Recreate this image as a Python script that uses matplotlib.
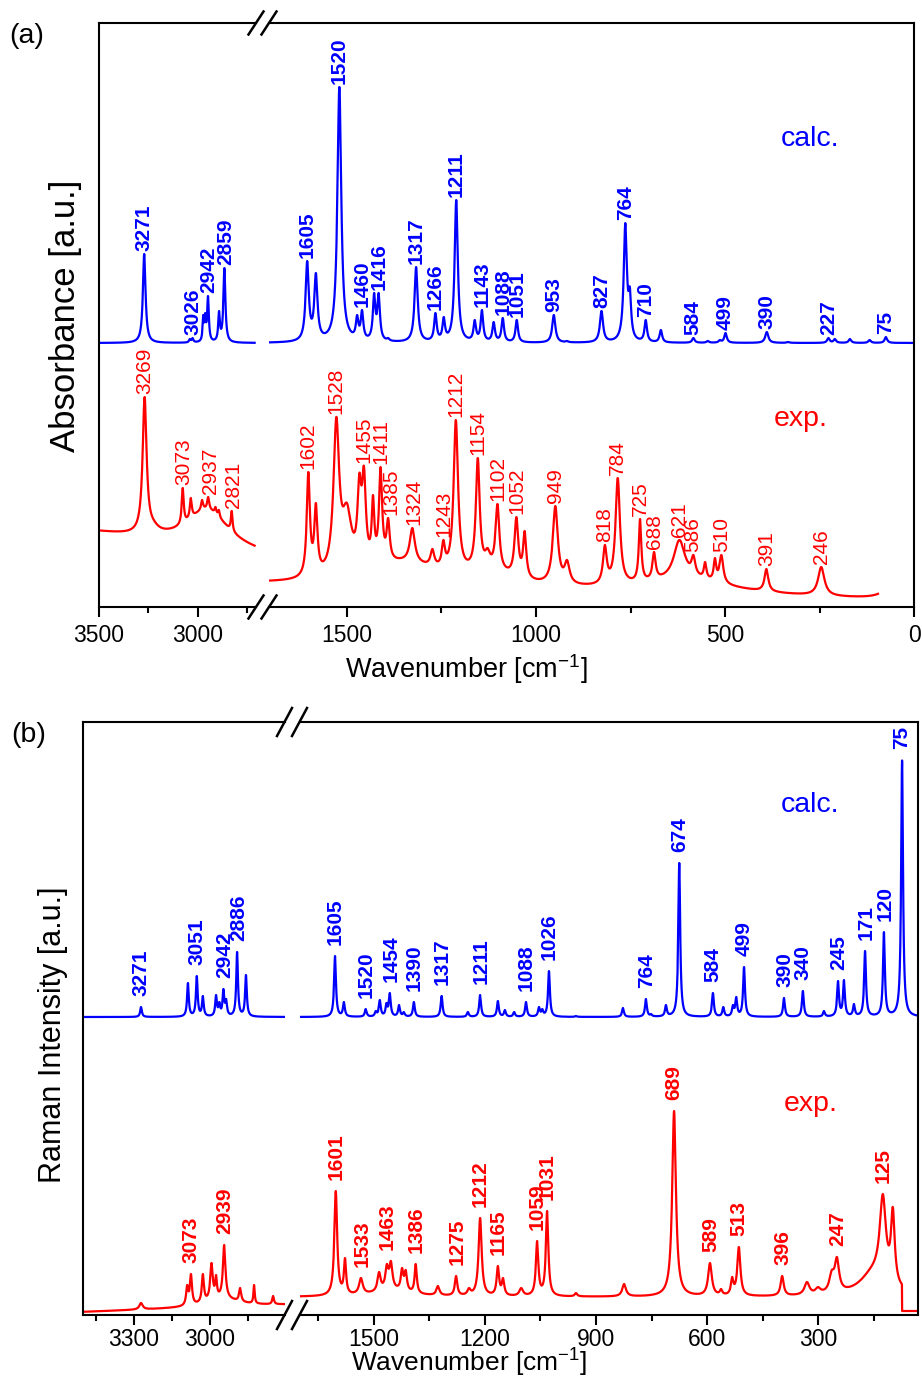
import numpy as np
import matplotlib.pyplot as plt

plt.rcParams['font.family'] = ['Liberation Sans', 'DejaVu Sans']
plt.rcParams['mathtext.default'] = 'regular'

W, H = 922, 1384
BLUE, RED = '#0000ff', '#ff0000'

# ---------------- (a) IR absorbance ----------------
# calc.: peak positions [cm-1], heights above baseline, half widths
ir_calc_base = 264
ir_calc_pos = [3271, 3040, 3026, 2972, 2962, 2948, 2892, 2865,
               1605, 1582, 1520, 1473, 1460, 1428, 1416, 1391, 1317, 1266, 1244,
               1211, 1162, 1143, 1112, 1088, 1051, 953, 918, 827, 764, 752, 710,
               670, 584, 546, 514, 499, 390, 333, 227, 210, 170, 118, 75]
ir_calc_h = [89, 4, 5, 28, 30, 47, 32, 75,
             82, 70, 256, 28, 33, 50, 50, 5, 76, 30, 26,
             143, 23, 33, 21, 25, 23, 28, 2, 32, 120, 56, 23,
             13, 5, 2, 3, 10, 11, 1, 5, 4, 4, 3, 6]
ir_calc_hw = [8, 5, 5, 4, 4, 5, 5, 6,
              5, 5, 6, 4, 4, 4, 4, 4, 5, 4, 4,
              5, 4, 4, 4, 4, 4, 5, 4, 5, 5, 4, 4,
              4, 4, 4, 4, 4, 5, 4, 4, 4, 4, 4, 4]
ir_calc_labels = ['3271', '3026', '2942', '2859', '1605', '1520', '1460', '1416',
                  '1317', '1266', '1211', '1143', '1088', '1051', '953', '827',
                  '764', '710', '584', '499', '390', '227', '75']

# exp.: peak positions, read curve heights at the peaks, half widths
ir_exp_pos = [3269, 3225, 3076, 3035, 2978, 2947, 2910, 2893, 2828,
              1602, 1582, 1528, 1500, 1467, 1455, 1431, 1411, 1391, 1327, 1274,
              1245, 1212, 1154, 1128, 1102, 1052, 1030, 949, 918, 818, 784, 725,
              688, 621, 584, 553, 527, 510, 391, 246]
ir_exp_top = [210, 88, 119, 109, 107, 110, 100, 97, 96,
              135, 104, 190, 104, 134, 141, 112, 140, 89, 79, 58,
              67, 187, 149, 59, 103, 90, 76, 101, 47, 62, 129, 88,
              55, 67, 52, 45, 49, 52, 38, 40]
ir_exp_hw = [12, 35, 6, 6, 6, 6, 5, 5, 5,
             5, 5, 9, 15, 6, 6, 4, 5, 5, 8, 6,
             5, 7, 6, 8, 6, 6, 5, 8, 8, 6, 7, 4,
             5, 18, 6, 4, 4, 6, 6, 10]
ir_exp_bg_hi = [74, 52]          # baseline at 3500 and 2705 cm-1
ir_exp_bg_lo = [22, 6]           # baseline at 1706 and 0 cm-1
ir_exp_bands = [(2950, 130, 38), (1350, 120, 22), (1120, 80, 12),
                (600, 150, 14), (60, 25, 14)]
ir_exp_labels = ['3269', '3073', '2937', '2821', '1602', '1528', '1455', '1411',
                 '1385', '1324', '1243', '1212', '1154', '1102', '1052', '949',
                 '818', '784', '725', '688', '621', '586', '510', '391', '246']

# ---------------- (b) Raman ----------------
ra_calc_base = 298
ra_calc_pos = [3271, 3086, 3051, 3027, 2975, 2962, 2946, 2935, 2892, 2857,
               1605, 1581, 1522, 1495, 1484, 1466, 1457, 1432, 1419, 1392, 1317,
               1246, 1213, 1165, 1146, 1121, 1089, 1054, 1045, 1027, 954, 827,
               765, 751, 711, 675, 584, 556, 530, 521, 500, 392, 341, 284, 246,
               230, 203, 173, 122, 73]
ra_calc_h = [10, 34, 41, 21, 22, 15, 28, 18, 65, 42,
             61, 15, 8, 6, 17, 14, 24, 12, 5, 15, 21,
             5, 22, 16, 7, 5, 15, 10, 8, 46, 1, 9,
             18, 3, 12, 154, 24, 10, 12, 20, 50, 19, 26, 6, 36,
             37, 13, 66, 85, 257]
ra_calc_labels = ['3271', '3051', '2942', '2886', '1605', '1520', '1454', '1390',
                  '1317', '1211', '1088', '1026', '764', '674', '584', '499',
                  '390', '340', '245', '171', '120', '75']

ra_exp_pos = [3271, 3089, 3074, 3027, 2993, 2975, 2943, 2880, 2825, 2750,
              1603, 1578, 1535, 1486, 1465, 1454, 1424, 1414, 1387, 1327, 1278,
              1243, 1213, 1165, 1151, 1102, 1059, 1032, 954, 824, 689, 592, 562,
              532, 514, 397, 330, 300, 263, 249, 125, 98]
ra_exp_top = [12, 30, 41, 41, 52, 40, 70, 27, 30, 19,
              124, 57, 37, 43, 51, 54, 47, 45, 51, 29, 39,
              27, 97, 49, 37, 27, 74, 104, 22, 31, 204, 52, 26,
              38, 68, 39, 33, 28, 45, 58, 121, 108]
ra_exp_hw = [8, 5, 5, 5, 6, 4, 6, 5, 3, 4,
             4.5, 3.5, 6, 5, 5, 5, 4, 4, 3.5, 5, 4,
             5, 5, 4, 4, 6, 4, 4, 4, 6, 6, 6, 4,
             4, 5, 5, 8, 8, 8, 7, 10, 6]
ra_exp_bg_hi = [3, 10]
ra_exp_bg_lo = [18, 18]
ra_exp_bands = [(2950, 80, 8), (1450, 60, 6), (150, 45, 22)]
ra_exp_cut = 73
ra_exp_labels = ['3073', '2939', '1601', '1533', '1463', '1386', '1275', '1212',
                 '1165', '1059', '1031', '689', '589', '513', '396', '247', '125']


def lorentz(x, x0, g):
    return 1.0 / (1.0 + ((x - x0) / g) ** 2)


def make_base(ends_hi, ends_lo, bands):
    def base(x):
        x = np.asarray(x, float)
        hi = ends_hi[0] + (ends_hi[1] - ends_hi[0]) * (3500 - x) / 795.0
        lo = ends_lo[1] + (ends_lo[0] - ends_lo[1]) * x / 1706.0
        y = np.where(x > 2000, hi, lo)
        for c, g, a in bands:
            y = y + a * lorentz(x, c, g)
        return y
    return base


def spectrum(x, pos, top, hw, base, hi):
    # amplitudes solved so the curve passes through the read peak heights
    pos, top, hw = (np.asarray(v, float) for v in (pos, top, hw))
    sel = (pos > 2000) if hi else (pos < 2000)
    pos, top, hw = pos[sel], top[sel], hw[sel]
    m = lorentz(pos[:, None], pos[None, :], hw[None, :])
    amp = np.linalg.solve(m, top - base(pos))
    return base(x) + lorentz(x[:, None], pos[None, :], hw[None, :]) @ amp


def label_peaks(ax, x, y, labels, win, gap, color, weight):
    for t in labels:
        v = float(t)
        m = np.abs(x - v) <= win
        if not m.any():
            continue
        ax.text(v, y[m].max() + gap, t, rotation=90, ha='center', va='bottom',
                color=color, fontsize=15, fontweight=weight)


def px_axes(fig, x0, x1, y0, y1):
    return fig.add_axes([x0 / W, 1 - y1 / H, (x1 - x0) / W, (y1 - y0) / H])


def style(ax, side, major, minor, ylim, pad):
    for s in ax.spines.values():
        s.set_linewidth(1.5)
    ax.spines['right' if side == 'left' else 'left'].set_visible(False)
    ax.set_ylim(*ylim)
    ax.set_yticks([])
    ax.set_xticks(major)
    ax.set_xticks(minor, minor=True)
    ax.tick_params(axis='x', which='major', direction='out', length=7, width=1.5,
                   labelsize=16.5, pad=pad, top=False)
    ax.tick_params(axis='x', which='minor', direction='out', length=4.5, width=1.5,
                   top=False)


def breaks(fig, xs, ys, dx, dy):
    for xc in xs:
        for yc in ys:
            fig.add_artist(plt.Line2D([(xc - dx) / W, (xc + dx) / W],
                                      [1 - (yc + dy) / H, 1 - (yc - dy) / H],
                                      color='k', lw=1.8, transform=fig.transFigure))


fig = plt.figure(figsize=(W / 100, H / 100), dpi=100)

# ---------- panel (a) ----------
axL = px_axes(fig, 99, 256, 23, 607)
axR = px_axes(fig, 269, 914.3, 23, 607)
axL.set_xlim(3500, 2705)
axR.set_xlim(1706, 0)
style(axL, 'left', [3500, 3000], [3250, 2750], (0, 584), 5)
style(axR, 'right', [1500, 1000, 500, 0], [1250, 750, 250], (0, 584), 5)

base_c = lambda x: np.full(np.shape(x), float(ir_calc_base))
base_e = make_base(ir_exp_bg_hi, ir_exp_bg_lo, ir_exp_bands)
top_c = np.array(ir_calc_h) + ir_calc_base

xh = np.linspace(2712, 3500, 2500)
yc = spectrum(xh, ir_calc_pos, top_c, ir_calc_hw, base_c, True)
ye = spectrum(xh, ir_exp_pos, ir_exp_top, ir_exp_hw, base_e, True)
axL.plot(xh, yc, color=BLUE, lw=1.6)
axL.plot(xh, ye, color=RED, lw=1.6)
label_peaks(axL, xh, yc, [t for t in ir_calc_labels if float(t) > 2000], 15, 3, BLUE, 'bold')
label_peaks(axL, xh, ye, [t for t in ir_exp_labels if float(t) > 2000], 15, 3, RED, 'normal')

xl = np.linspace(0, 1703, 5000)
xle = np.linspace(96, 1703, 5000)
yc = spectrum(xl, ir_calc_pos, top_c, ir_calc_hw, base_c, False)
ye = spectrum(xle, ir_exp_pos, ir_exp_top, ir_exp_hw, base_e, False)
axR.plot(xl, yc, color=BLUE, lw=1.6)
axR.plot(xle, ye, color=RED, lw=1.6)
label_peaks(axR, xl, yc, [t for t in ir_calc_labels if float(t) < 2000], 10, 3, BLUE, 'bold')
label_peaks(axR, xle, ye, [t for t in ir_exp_labels if float(t) < 2000], 10, 3, RED, 'normal')
breaks(fig, [256, 269], [23, 607], 7.5, 11.5)

fig.text(9 / W, 1 - 36 / H, '(a)', fontsize=20.5, va='center')
fig.text(781 / W, 1 - 146 / H, 'calc.', fontsize=20.5, color=BLUE, va='baseline')
fig.text(774 / W, 1 - 426 / H, 'exp.', fontsize=20.5, color=RED, va='baseline')
fig.text(65 / W, 1 - 316 / H, 'Absorbance [a.u.]', fontsize=25, rotation=90,
         ha='center', va='center')
fig.text(466 / W, 1 - 678 / H, r'Wavenumber [cm$^{-1}$]', fontsize=19.5,
         ha='center', va='baseline')

# ---------- panel (b) ----------
bxL = px_axes(fig, 83, 284.5, 722, 1315)
bxR = px_axes(fig, 299.5, 918, 722, 1315)
bxL.set_xlim(3500, 2705)
bxR.set_xlim(1701, 30)
style(bxL, 'left', [3300, 3000], [3450, 3150, 2850], (0, 593), 2)
style(bxR, 'right', [1500, 1200, 900, 600, 300], [1650, 1350, 1050, 750, 450, 150],
      (0, 593), 2)

base_rc = lambda x: np.full(np.shape(x), float(ra_calc_base))
base_re = make_base(ra_exp_bg_hi, ra_exp_bg_lo, ra_exp_bands)
top_rc = np.array(ra_calc_h) + ra_calc_base
hw_rc = [4 if p > 2000 else 3 for p in ra_calc_pos]

xh = np.linspace(2707, 3500, 2500)
yc = spectrum(xh, ra_calc_pos, top_rc, hw_rc, base_rc, True)
ye = spectrum(xh, ra_exp_pos, ra_exp_top, ra_exp_hw, base_re, True)
bxL.plot(xh, yc, color=BLUE, lw=1.6)
bxL.plot(xh, ye, color=RED, lw=1.6)
label_peaks(bxL, xh, yc, [t for t in ra_calc_labels if float(t) > 2000], 15, 11, BLUE, 'bold')
label_peaks(bxL, xh, ye, [t for t in ra_exp_labels if float(t) > 2000], 15, 11, RED, 'bold')

xl = np.linspace(30, 1700, 6000)
yc = spectrum(xl, ra_calc_pos, top_rc, hw_rc, base_rc, False)
ye = spectrum(xl, ra_exp_pos, ra_exp_top, ra_exp_hw, base_re, False)
ye = np.where(xl < ra_exp_cut, 4.0, ye)
bxR.plot(xl, yc, color=BLUE, lw=1.6)
bxR.plot(xl, ye, color=RED, lw=1.6)
label_peaks(bxR, xl, yc, [t for t in ra_calc_labels if float(t) < 2000], 10, 11, BLUE, 'bold')
label_peaks(bxR, xl, ye, [t for t in ra_exp_labels if float(t) < 2000], 10, 11, RED, 'bold')
breaks(fig, [284.5, 299.5], [722, 1315], 7.5, 14)

fig.text(11 / W, 1 - 735 / H, '(b)', fontsize=20.5, va='center')
fig.text(781 / W, 1 - 812 / H, 'calc.', fontsize=20.5, color=BLUE, va='baseline')
fig.text(784 / W, 1 - 1111 / H, 'exp.', fontsize=20.5, color=RED, va='baseline')
fig.text(53 / W, 1 - 1035 / H, 'Raman Intensity [a.u.]', fontsize=22, rotation=90,
         ha='center', va='center')
fig.text(469 / W, 1 - 1372 / H, r'Wavenumber [cm$^{-1}$]', fontsize=19,
         ha='center', va='baseline')

fig.savefig('out.png', dpi=100)
